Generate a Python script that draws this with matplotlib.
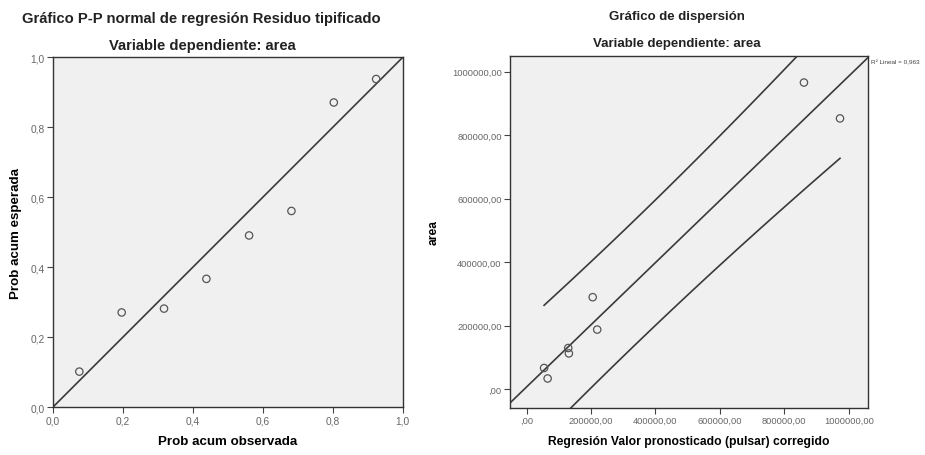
import numpy as np
import matplotlib
matplotlib.use('Agg')
import matplotlib.pyplot as plt
from matplotlib.ticker import FuncFormatter

plt.rcParams['font.family'] = ['Liberation Sans', 'DejaVu Sans']

# P-P plot of standardised residuals
prob_obs = [0.076, 0.197, 0.318, 0.439, 0.561, 0.682, 0.803, 0.924]
prob_esp = [0.102, 0.271, 0.282, 0.367, 0.491, 0.561, 0.871, 0.938]
pp_ticks = [0.0, 0.2, 0.4, 0.6, 0.8, 1.0]

# Scatter: area vs adjusted predicted value
pred = [861000, 973000, 205000, 219000, 129000, 131000, 54000, 65000]
area = [966000, 853000, 290000, 188000, 130000, 113000, 67000, 34000]
sc_ticks = [0, 200000, 400000, 600000, 800000, 1000000]

T_975_6 = 2.447  # t critical value, 95%, df = n - 2

bg = '#f0f0f0'
line_c = '#3a3a3a'
tick_c = '#666666'
title_c = '#222222'


def comma(fmt):
    def f(v, pos):
        return format(v, fmt).replace('.', ',')
    return FuncFormatter(f)


def comma_sc(v, pos):
    s = ('%.2f' % v).replace('.', ',')
    if s.startswith('0,'):
        s = s[1:]
    return s


def style_axes(ax, lsize):
    ax.set_facecolor(bg)
    for sp in ax.spines.values():
        sp.set_color('#333333')
        sp.set_linewidth(1.0)
    ax.tick_params(direction='out', length=4, width=0.8, color='#444444',
                   labelsize=lsize, labelcolor=tick_c, pad=2)


fig = plt.figure(figsize=(9.25, 4.56), dpi=100)

# --- left: P-P plot ---
ax1 = fig.add_axes([0.057, 0.1046, 0.3784, 0.7675])
style_axes(ax1, 7.3)
ax1.plot([0, 1], [0, 1], color=line_c, lw=1.2)
ax1.scatter(prob_obs, prob_esp, s=28, facecolors='none', edgecolors='#555555',
            linewidths=0.9, zorder=3)
ax1.set_xlim(0, 1)
ax1.set_ylim(0, 1)
ax1.set_xticks(pp_ticks)
ax1.set_yticks(pp_ticks)
ax1.xaxis.set_major_formatter(comma('.1f'))
ax1.yaxis.set_major_formatter(comma('.1f'))
ax1.set_xlabel('Prob acum observada', fontsize=9.6, fontweight='bold', labelpad=7)
ax1.set_ylabel('Prob acum esperada', fontsize=9.6, fontweight='bold', labelpad=6)

fig.text(201 / 925, 1 - 19 / 456, 'Gráfico P-P normal de regresión Residuo tipificado',
         ha='center', va='center', fontsize=10.6, fontweight='bold', color=title_c)
fig.text(202 / 925, 1 - 46 / 456, 'Variable dependiente: area',
         ha='center', va='center', fontsize=10.6, fontweight='bold', color=title_c)

# --- right: scatter with fit and prediction interval ---
ax2 = fig.add_axes([0.5514, 0.104, 0.387, 0.7715])
style_axes(ax2, 6.7)
xlim = (-51700, 1060000)
ylim = (-57650, 1050300)

x = np.array(pred, dtype=float)
y = np.array(area, dtype=float)
n = len(x)
b, a = np.polyfit(x, y, 1)
resid = y - (a + b * x)
s = np.sqrt(np.sum(resid ** 2) / (n - 2))
sxx = np.sum((x - x.mean()) ** 2)
r2 = 1 - np.sum(resid ** 2) / np.sum((y - y.mean()) ** 2)

xf = np.linspace(xlim[0], xlim[1], 100)
ax2.plot(xf, a + b * xf, color=line_c, lw=1.2)
xi = np.linspace(x.min(), x.max(), 100)
half = T_975_6 * s * np.sqrt(1 + 1 / n + (xi - x.mean()) ** 2 / sxx)
ax2.plot(xi, a + b * xi + half, color=line_c, lw=1.2)
ax2.plot(xi, a + b * xi - half, color=line_c, lw=1.2)

ax2.scatter(pred, area, s=28, facecolors='none', edgecolors='#555555',
            linewidths=0.9, zorder=3)
ax2.set_xlim(*xlim)
ax2.set_ylim(*ylim)
ax2.set_xticks(sc_ticks)
ax2.set_yticks(sc_ticks)
ax2.xaxis.set_major_formatter(FuncFormatter(comma_sc))
ax2.yaxis.set_major_formatter(FuncFormatter(comma_sc))
ax2.set_xlabel('Regresión Valor pronosticado (pulsar) corregido', fontsize=8.7,
               fontweight='bold', labelpad=7)
ax2.set_ylabel('area', fontsize=8.7, fontweight='bold', labelpad=9)

r2_txt = 'R² Lineal = ' + ('%.3f' % r2).replace('.', ',')
ax2.annotate(r2_txt, xy=(1.0, 1.0), xycoords='axes fraction',
             xytext=(2, -4), textcoords='offset points', fontsize=4.6,
             color='#444444', va='center', ha='left', annotation_clip=False)

fig.text(677 / 925, 1 - 17 / 456, 'Gráfico de dispersión',
         ha='center', va='center', fontsize=9.5, fontweight='bold', color=title_c)
fig.text(677 / 925, 1 - 44 / 456, 'Variable dependiente: area',
         ha='center', va='center', fontsize=9.5, fontweight='bold', color=title_c)

fig.savefig('out.png', dpi=100)
